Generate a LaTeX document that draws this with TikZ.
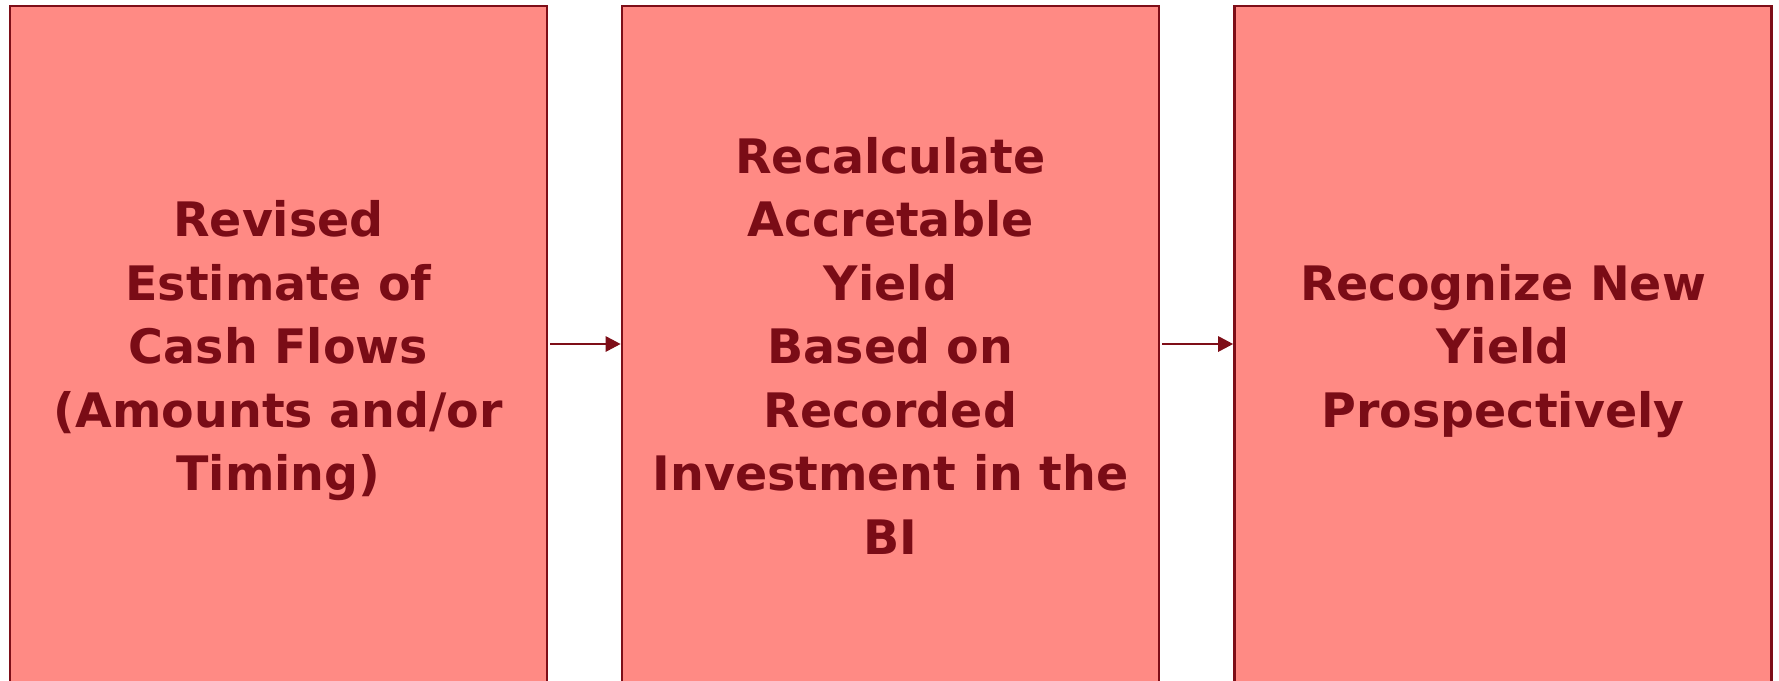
\documentclass[tikz,border=0pt]{standalone}
\usepackage{fontspec}
\setmainfont{DejaVu Sans}
\usetikzlibrary{arrows.meta}
\definecolor{boxfill}{HTML}{FF8A84}
\definecolor{boxline}{HTML}{7E0E18}
\definecolor{boxtext}{HTML}{7A0C16}
\tikzset{
  stepbox/.style={draw=boxline, line width=2.6pt, fill=boxfill, rectangle,
    minimum width=537pt, minimum height=676pt, inner sep=0pt},
  steptext/.style={text=boxtext, align=center, inner sep=0pt,
    font=\fontsize{47.5}{63.5}\selectfont\bfseries},
  flow/.style={draw=boxline, line width=2.8pt,
    -{Triangle[length=15pt,width=15pt]}}
}
\begin{document}
\begin{tikzpicture}[x=1pt,y=-1pt]
\useasboundingbox (0,0) rectangle (1779,680);
\clip (0,0) rectangle (1779,680);
% the three steps
\node[stepbox] (est) at (278.5,344) {};
\node[stepbox] (calc) at (890.5,344) {};
\node[stepbox] (yield) at (1503,344) {};
% struts give every line the same height, so the blocks centre alike
\node[steptext] (est-t) at ([yshift=-7pt]est.center)
  {\strut Revised\\\strut Estimate of\\\strut Cash Flows\\
   \strut(Amounts and/or\\\strut Timing)};
\node[steptext] (calc-t) at ([yshift=-7pt]calc.center)
  {\strut Recalculate\\\strut Accretable\\\strut Yield\\\strut Based on\\
   \strut Recorded\\\strut Investment in the\\\strut BI};
\node[steptext] (yield-t) at ([yshift=-7pt]yield.center)
  {\strut Recognize New\\\strut Yield\\\strut Prospectively};
% connectors between the steps
\draw[flow] ([xshift=2pt]est.east) -- (calc.west);
\draw[flow] ([xshift=2pt]calc.east) -- (yield.west);
\end{tikzpicture}
\end{document}
